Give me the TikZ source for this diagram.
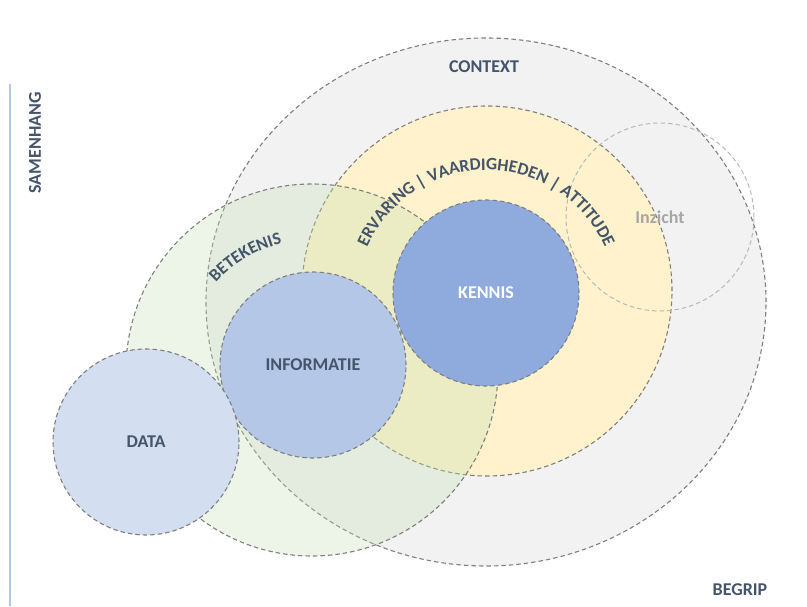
\documentclass[tikz,border=0pt]{standalone}
\usepackage{fontspec}
\setmainfont{Carlito}
\usetikzlibrary{decorations.text}
\definecolor{txt}{HTML}{44546A}
\definecolor{greyfill}{HTML}{F2F2F2}
\definecolor{yellowfill}{HTML}{FFF2CC}
\definecolor{greenfill}{HTML}{C5E0B4}
\definecolor{kennisfill}{HTML}{8FAADC}
\definecolor{infofill}{HTML}{B4C7E7}
\definecolor{datafill}{HTML}{D3DEF1}
\definecolor{bord}{HTML}{7F7F7F}
\definecolor{axis}{HTML}{B4C7E7}
\tikzset{
  ring/.style={draw=bord, line width=1.1pt, dash pattern=on 4.5pt off 3pt},
  lbl/.style={font=\fontsize{18}{18}\selectfont\bfseries, text=txt},
}
\begin{document}
\begin{tikzpicture}[x=1pt,y=1pt]
\useasboundingbox (0,0) rectangle (807,606);
% context
\path[ring, fill=greyfill] (486,304) ellipse [x radius=280, y radius=264];
% yellow
\path[ring, fill=yellowfill] (487,315) circle [radius=185];
% green (semi-transparent)
\path[ring, fill=greenfill, fill opacity=0.32] (312,236) circle [radius=186];
% inzicht
\path[draw=gray!55, line width=1pt, dash pattern=on 4.5pt off 3pt] (660,389) circle [radius=94];
% inner circles
\path[ring, fill=kennisfill] (486,313) circle [radius=93];
\path[ring, fill=infofill] (313,241) circle [radius=93];
\path[ring, fill=datafill] (146,164) circle [radius=93];
% labels
\node[lbl] (context) at (484,539) {CONTEXT};
\node[lbl, text=white] (kennis) at (486,313) {KENNIS};
\node[lbl] (informatie) at (313,241) {INFORMATIE};
\node[lbl] (data) at (146,164) {DATA};
\node[lbl, text=gray!70] (inzicht) at (660,389) {Inzicht};
\node[lbl, rotate=90] (samenhang) at (35,463) {SAMENHANG};
\node[lbl] (begrip) at (740,16) {BEGRIP};
% axis line
\coordinate (axtop) at (10,522);
\coordinate (axbot) at (10,0);
\draw[axis, line width=1.2pt] (axtop) -- (axbot);
% curved texts
\path[decorate, decoration={text along path, text align=center,
  text format delimiters={<}{>},
  text={<\fontsize{17.5}{17.5}\selectfont\bfseries\color{txt}>ERVARING | VAARDIGHEDEN | ATTITUDE}}]
  (486,306) ++(175:130) arc[start angle=175, end angle=5, radius=130];
\path[decorate, decoration={text along path, text align=center,
  text format delimiters={<}{>},
  text={<\fontsize{17.5}{17.5}\selectfont\bfseries\color{txt}>BETEKENIS}}]
  (312,236) ++(170:130) arc[start angle=170, end angle=71, radius=130];
\end{tikzpicture}
\end{document}
